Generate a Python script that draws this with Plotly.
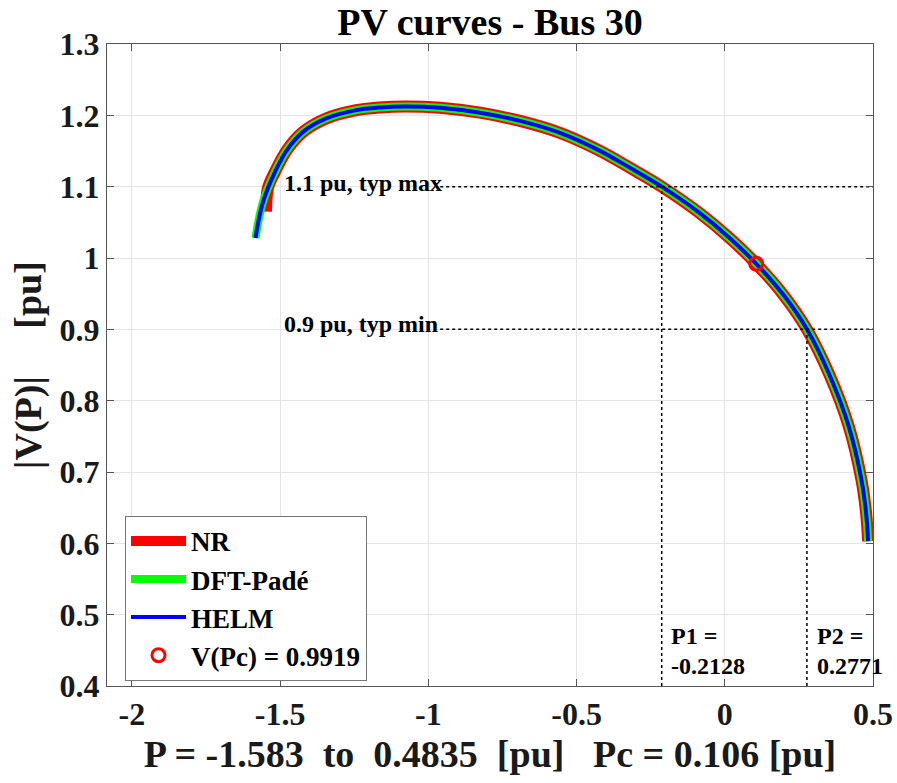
import plotly.graph_objects as go

# ---------------- data ----------------
# DFT-Padé and HELM PV curve (they coincide)
P_curve = [-1.583, -1.5728, -1.5594, -1.5408, -1.5172, -1.4767, -1.4228, -1.3486,
           -1.2475, -1.1632, -1.0789, -0.9609, -0.8260, -0.6912, -0.5563, -0.4214,
           -0.3203, -0.2128, -0.0843, 0.0169, 0.106, 0.1956, 0.2771, 0.3540,
           0.4181, 0.4619, 0.4771, 0.4835]
V_curve = [1.028, 1.0523, 1.0761, 1.0985, 1.1209, 1.1516, 1.1768, 1.1950,
           1.2069, 1.2111, 1.2125, 1.2107, 1.2037, 1.1922, 1.1754, 1.1502,
           1.1265, 1.100, 1.0628, 1.0278, 0.9919, 0.9494, 0.900, 0.8353,
           0.7640, 0.6870, 0.6408, 0.6030]

# NR curve (starts slightly later)
P_nr = [-1.5476, -1.5408, -1.5172, -1.4767, -1.4228, -1.3486,
        -1.2475, -1.1632, -1.0789, -0.9609, -0.8260, -0.6912, -0.5563, -0.4214,
        -0.3203, -0.2128, -0.0843, 0.0169, 0.106, 0.1956, 0.2771, 0.3540,
        0.4181, 0.4619, 0.4771, 0.4835]
V_nr = [1.0649, 1.0985, 1.1209, 1.1516, 1.1768, 1.1950,
        1.2069, 1.2111, 1.2125, 1.2107, 1.2037, 1.1922, 1.1754, 1.1502,
        1.1265, 1.100, 1.0628, 1.0278, 0.9919, 0.9494, 0.900, 0.8353,
        0.7640, 0.6870, 0.6408, 0.6030]

Pc = [0.106]
Vc = [0.9919]

P1 = -0.2128
P2 = 0.2771
V_typ_max = 1.1
V_typ_min = 0.9
P_guide_start = -0.96
P_right = 0.5
V_bottom = 0.4

x_range = [-2.084, 0.5]
y_range = [0.4, 1.3]
x_ticks = [-2, -1.5, -1, -0.5, 0, 0.5]
x_tick_labels = ["-2", "-1.5", "-1", "-0.5", "0", "0.5"]
y_ticks = [0.4, 0.5, 0.6, 0.7, 0.8, 0.9, 1.0, 1.1, 1.2, 1.3]
y_tick_labels = ["0.4", "0.5", "0.6", "0.7", "0.8", "0.9", "1", "1.1", "1.2", "1.3"]

FONT = "Liberation Serif"
NB = "\u00a0"

fig = go.Figure()

fig.add_trace(go.Scatter(x=P_nr, y=V_nr, mode="lines", name="NR",
                         line=dict(color="#ff0000", width=12, shape="spline", smoothing=1.0)))
fig.add_trace(go.Scatter(x=P_curve, y=V_curve, mode="lines", name="DFT-Padé",
                         line=dict(color="#00ff00", width=8, shape="spline", smoothing=1.0)))
fig.add_trace(go.Scatter(x=P_curve, y=V_curve, mode="lines", name="HELM",
                         line=dict(color="#0000ff", width=4, shape="spline", smoothing=1.0)))

dot = dict(color="black", width=1.5, dash="dot")
fig.add_trace(go.Scatter(x=[P_guide_start, P_right], y=[V_typ_max, V_typ_max], mode="lines",
                         line=dot, showlegend=False, hoverinfo="skip"))
fig.add_trace(go.Scatter(x=[P_guide_start, P_right], y=[V_typ_min, V_typ_min], mode="lines",
                         line=dot, showlegend=False, hoverinfo="skip"))
fig.add_trace(go.Scatter(x=[P1, P1], y=[V_bottom, V_typ_max], mode="lines",
                         line=dot, showlegend=False, hoverinfo="skip"))
fig.add_trace(go.Scatter(x=[P2, P2], y=[V_bottom, V_typ_min], mode="lines",
                         line=dot, showlegend=False, hoverinfo="skip"))

fig.add_trace(go.Scatter(x=Pc, y=Vc, mode="markers", name="V(Pc) = 0.9919",
                         marker=dict(symbol="circle-open", size=13, color="#ff0000",
                                     line=dict(width=3, color="#ff0000"))))

ann_font = dict(family=FONT, size=24, color="black", weight="bold")
annos = [
    dict(x=-1.4936, y=1.1055, text="1.1 pu, typ max"),
    dict(x=-1.4936, y=0.908, text="0.9 pu, typ min"),
    dict(x=-0.1878, y=0.470, text="P1 ="),
    dict(x=-0.1878, y=0.428, text="-0.2128"),
    dict(x=0.3058, y=0.470, text="P2 ="),
    dict(x=0.3058, y=0.428, text="0.2771"),
]
for a in annos:
    fig.add_annotation(x=a["x"], y=a["y"], text=a["text"], xref="x", yref="y",
                       xanchor="left", yanchor="middle", showarrow=False, font=ann_font)

axis_common = dict(
    showline=True, linecolor="#555555", linewidth=1, mirror="ticks",
    ticks="inside", ticklen=7, tickwidth=1, tickcolor="#555555",
    showgrid=True, gridcolor="#e4e4e4", gridwidth=1, zeroline=False,
    automargin=False,
    tickfont=dict(family=FONT, size=32, color="#1a1a1a", weight="bold"),
)

fig.update_layout(
    template="none",
    width=897, height=783,
    margin=dict(l=107, r=24, t=44, b=97),
    paper_bgcolor="white", plot_bgcolor="white",
    font=dict(family=FONT, color="black", weight="bold"),
    title=dict(text="PV curves - Bus 30", x=0.5, xref="paper", xanchor="center",
               y=1 - 22 / 783, yref="container", yanchor="middle",
               font=dict(family=FONT, size=38, color="black", weight="bold")),
    xaxis=dict(range=x_range, tickvals=x_ticks, ticktext=x_tick_labels,
               title=dict(text="P = -1.583" + NB * 2 + "to" + NB * 2 + "0.4835" + NB * 2 + "[pu]"
                               + NB * 3 + "Pc = 0.106 [pu]",
                          standoff=8,
                          font=dict(family=FONT, size=38, color="#1a1a1a", weight="bold")),
               **axis_common),
    yaxis=dict(range=y_range, tickvals=y_ticks, ticktext=y_tick_labels,
               title=dict(text="|V(P)|" + NB * 5 + "[pu]", standoff=6,
                          font=dict(family=FONT, size=38, color="#1a1a1a", weight="bold")),
               **axis_common),
    legend=dict(x=0.0235, y=0.265, xanchor="left", yanchor="top",
                bgcolor="white", bordercolor="#777777", borderwidth=1,
                font=dict(family=FONT, size=27, color="black", weight="bold"),
                itemwidth=55, tracegroupgap=0),
    showlegend=True,
)

fig.write_html("out.html")
